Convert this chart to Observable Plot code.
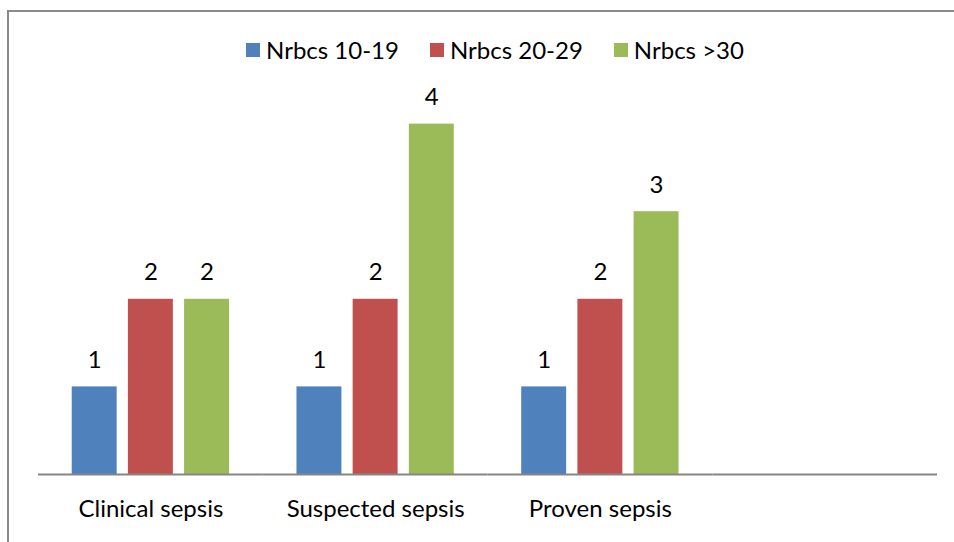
<!DOCTYPE html>
<html><head><meta charset="utf-8">
<script src="https://cdn.jsdelivr.net/npm/d3@7"></script>
<script src="https://cdn.jsdelivr.net/npm/@observablehq/plot@0.6"></script>
<style>
body{margin:0;background:#fff;font-family:Lato,sans-serif;}
#wrap{position:relative;width:954px;height:542px;overflow:hidden;}
#frame{position:absolute;left:7px;top:10px;width:1000px;height:600px;border:2px solid #8a8a8a;box-sizing:border-box;pointer-events:none;}
#legend{position:absolute;top:37px;left:246px;display:flex;align-items:center;font-size:24px;color:#000;line-height:26px;}
.item{display:flex;align-items:center;margin-right:31px;}
.sw{width:14px;height:14px;margin-right:6px;}
#chart{position:absolute;left:0;top:0;}
</style></head>
<body><div id="wrap"><div id="chart"></div><div id="legend"></div><div id="frame"></div></div>
<script>
const categories = ["Clinical sepsis", "Suspected sepsis", "Proven sepsis"];
const series = ["Nrbcs 10-19", "Nrbcs 20-29", "Nrbcs >30"];
const nrbcs10to19 = [1, 1, 1];
const nrbcs20to29 = [2, 2, 2];
const nrbcsOver30 = [2, 4, 3];
const colors = ["#4F81BD", "#C0504D", "#9BBB59"];

const data = [];
[nrbcs10to19, nrbcs20to29, nrbcsOver30].forEach((vals, si) =>
  vals.forEach((v, ci) => data.push({category: categories[ci], series: series[si], value: v})));
const fxDomain = [...categories, " "]; // empty fourth slot as in the original

const chart = Plot.plot({
  width: 954, height: 542,
  marginLeft: 38, marginRight: 17, marginTop: 36, marginBottom: 68,
  style: {fontFamily: "Lato, sans-serif", fontSize: "24px", color: "#000", background: "transparent"},
  fx: {domain: fxDomain, padding: 0, round: false, label: null, axis: "bottom", tickSize: 0, tickPadding: 25},
  x: {domain: series, paddingInner: 0.2, paddingOuter: 0.6, round: false, axis: null},
  y: {domain: [0, 5], axis: null},
  color: {domain: series, range: colors},
  marks: [
    Plot.barY(data, {fx: "category", x: "series", y: "value", fill: "series"}),
    Plot.text(data, {fx: "category", x: "series", y: "value", text: d => String(d.value), lineAnchor: "bottom", dy: -19, fontSize: 24, fill: "#000"}),
    Plot.ruleY(fxDomain, {fx: d => d, y: 0, stroke: "#868686", strokeWidth: 2})
  ]
});
document.getElementById("chart").appendChild(chart);

const legend = document.getElementById("legend");
series.forEach((s, i) => {
  const item = document.createElement("div");
  item.className = "item";
  const sw = document.createElement("div");
  sw.className = "sw";
  sw.style.background = colors[i];
  const t = document.createElement("span");
  t.textContent = s;
  item.appendChild(sw); item.appendChild(t);
  legend.appendChild(item);
});
</script>
</body></html>
